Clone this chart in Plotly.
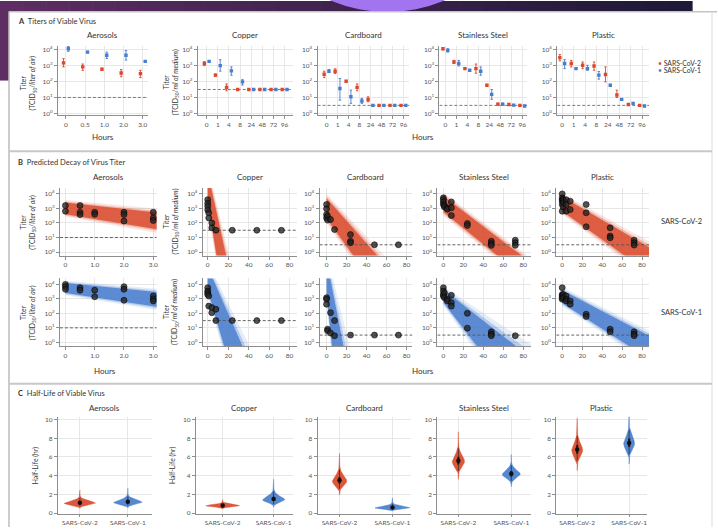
import numpy as np
import plotly.graph_objects as go

W, H = 718, 529
FONT = 'Lato'
TXT = '#333333'
RED = (217, 74, 44)
BLUE = (72, 125, 205)

SURFACES = ['Aerosols', 'Copper', 'Cardboard', 'Stainless Steel', 'Plastic']
VIRUSES = ['SARS-CoV-2', 'SARS-CoV-1']

# ---------------- Panel A: titers of viable virus (log10) ----------------
A_HOURS_AEROSOL = ['0', '0.5', '1.0', '2.0', '3.0']
A_HOURS_SURFACE = ['0', '1', '4', '8', '24', '48', '72', '96']
LOD_LOG10 = [1.0, 1.5, 0.5, 0.5, 0.5]

A_AEROSOLS_COV2_MEAN = [3.17, 2.92, 2.77, 2.54, 2.50]
A_AEROSOLS_COV2_LO = [2.92, 2.70, 2.70, 2.30, 2.25]
A_AEROSOLS_COV2_HI = [3.44, 3.10, 2.83, 2.75, 2.70]
A_AEROSOLS_COV1_MEAN = [4.06, 3.85, 3.65, 3.65, 3.27]
A_AEROSOLS_COV1_LO = [3.90, 3.80, 3.45, 3.35, 3.22]
A_AEROSOLS_COV1_HI = [4.20, 3.90, 3.85, 3.95, 3.32]

A_COPPER_COV2_MEAN = [3.13, 2.40, 1.63, 1.50, 1.50, 1.50, 1.50, 1.50]
A_COPPER_COV2_LO = [3.00, 2.33, 1.42, 1.50, 1.50, 1.50, 1.50, 1.50]
A_COPPER_COV2_HI = [3.25, 2.47, 1.85, 1.50, 1.50, 1.50, 1.50, 1.50]
A_COPPER_COV1_MEAN = [3.27, 3.00, 2.67, 1.98, 1.50, 1.50, 1.50, 1.50]
A_COPPER_COV1_LO = [3.22, 2.65, 2.40, 1.78, 1.50, 1.50, 1.50, 1.50]
A_COPPER_COV1_HI = [3.32, 3.37, 2.92, 2.12, 1.50, 1.50, 1.50, 1.50]

A_CARDBOARD_COV2_MEAN = [2.46, 2.65, 2.02, 1.63, 0.87, 0.50, 0.50, 0.50]
A_CARDBOARD_COV2_LO = [2.25, 2.50, 1.97, 1.42, 0.73, 0.50, 0.50, 0.50]
A_CARDBOARD_COV2_HI = [2.65, 2.80, 2.07, 1.85, 1.04, 0.50, 0.50, 0.50]
A_CARDBOARD_COV1_MEAN = [2.65, 1.56, 1.04, 0.78, 0.50, 0.50, 0.50, 0.50]
A_CARDBOARD_COV1_LO = [2.60, 0.83, 0.63, 0.63, 0.50, 0.50, 0.50, 0.50]
A_CARDBOARD_COV1_HI = [2.75, 2.19, 1.46, 0.94, 0.50, 0.50, 0.50, 0.50]

A_STEEL_COV2_MEAN = [4.06, 3.23, 2.81, 2.81, 1.77, 0.58, 0.56, 0.50]
A_STEEL_COV2_LO = [4.00, 3.13, 2.77, 2.52, 1.72, 0.52, 0.50, 0.50]
A_STEEL_COV2_HI = [4.12, 3.33, 2.85, 3.10, 1.82, 0.64, 0.62, 0.50]
A_STEEL_COV1_MEAN = [3.96, 3.13, 2.71, 2.65, 1.19, 0.58, 0.52, 0.46]
A_STEEL_COV1_LO = [3.85, 2.98, 2.67, 2.40, 0.88, 0.52, 0.50, 0.46]
A_STEEL_COV1_HI = [4.06, 3.33, 2.75, 2.92, 1.50, 0.64, 0.56, 0.46]

A_PLASTIC_COV2_MEAN = [3.50, 3.13, 3.02, 2.98, 2.44, 1.15, 0.56, 0.50]
A_PLASTIC_COV2_LO = [3.30, 2.92, 2.81, 2.71, 1.98, 1.00, 0.52, 0.50]
A_PLASTIC_COV2_HI = [3.69, 3.33, 3.23, 3.23, 2.92, 1.46, 0.60, 0.50]
A_PLASTIC_COV1_MEAN = [3.13, 2.81, 2.81, 2.40, 1.77, 0.88, 0.63, 0.46]
A_PLASTIC_COV1_LO = [2.81, 2.77, 2.71, 2.15, 1.72, 0.82, 0.60, 0.46]
A_PLASTIC_COV1_HI = [3.38, 2.85, 3.02, 2.63, 1.82, 0.93, 0.67, 0.46]

# ---------------- Panel B: observed titers (hours, log10) ----------------
B_AEROSOLS_COV2_T = [0, 0, 0.5, 0.5, 0.5, 1, 1, 2, 2, 2, 3, 3, 3]
B_AEROSOLS_COV2_Y = [3.2, 2.81, 3.2, 2.74, 2.58, 2.74, 2.6, 2.74, 2.58, 2.13, 2.74, 2.35, 2.17]
B_AEROSOLS_COV1_T = [0, 0, 0, 0.5, 0.5, 1, 1, 2, 2, 2, 3, 3, 3]
B_AEROSOLS_COV1_Y = [4.0, 3.84, 3.66, 3.77, 3.6, 3.6, 3.15, 3.84, 3.66, 2.9, 3.2, 3.0, 2.86]
B_COPPER_COV2_T = [0, 0, 0, 0, 1, 1, 4, 4, 8, 24, 48, 72]
B_COPPER_COV2_Y = [3.6, 3.35, 3.15, 2.9, 2.7, 2.35, 2.0, 1.67, 1.5, 1.5, 1.5, 1.5]
B_COPPER_COV1_T = [0, 0, 0, 0, 1, 1, 4, 4, 8, 8, 24, 48, 72]
B_COPPER_COV1_Y = [3.77, 3.54, 3.43, 3.3, 3.2, 2.5, 2.4, 2.05, 2.28, 1.5, 1.5, 1.5, 1.5]
B_CARDBOARD_COV2_T = [0, 0, 0, 0, 1, 1, 4, 8, 24, 24, 24, 48, 72]
B_CARDBOARD_COV2_Y = [3.27, 2.97, 2.58, 2.35, 2.47, 2.2, 2.24, 1.55, 1.2, 0.75, 0.64, 0.5, 0.5]
B_CARDBOARD_COV1_T = [0, 0, 0, 1, 1, 4, 4, 8, 8, 24, 48, 72]
B_CARDBOARD_COV1_Y = [3.08, 2.97, 2.63, 0.91, 0.8, 2.05, 0.64, 1.5, 0.46, 0.5, 0.5, 0.5]
B_STEEL_COV2_T = [0, 0, 0, 0, 1, 1, 4, 4, 8, 8, 8, 24, 24, 48, 48, 48, 72, 72, 72]
B_STEEL_COV2_Y = [3.73, 3.6, 3.43, 3.27, 3.2, 3.1, 3.04, 2.95, 3.45, 3.04, 2.51, 1.97, 1.83,
                  0.75, 0.6, 0.46, 0.82, 0.64, 0.46]
B_STEEL_COV1_T = [0, 0, 0, 0, 1, 1, 4, 4, 8, 8, 8, 24, 24, 48, 48, 48, 72]
B_STEEL_COV1_Y = [3.77, 3.54, 3.3, 3.2, 3.43, 3.08, 2.97, 2.86, 3.25, 2.74, 2.5, 2.0, 0.98,
                  0.73, 0.57, 0.46, 0.46]
B_PLASTIC_COV2_T = [0, 0, 0, 0, 0, 0, 1, 1, 1, 4, 4, 4, 8, 8, 24, 24, 24, 48, 48, 48, 72, 72, 72]
B_PLASTIC_COV2_Y = [4.0, 3.73, 3.6, 3.5, 3.27, 2.81, 3.6, 3.38, 3.1, 3.6, 3.27, 2.81, 3.5, 2.92,
                    3.27, 2.7, 1.74, 1.67, 1.1, 0.98, 0.82, 0.64, 0.48]
B_PLASTIC_COV1_T = [0, 0, 0, 0, 0, 1, 1, 4, 4, 4, 8, 8, 24, 24, 48, 48, 72, 72, 72]
B_PLASTIC_COV1_Y = [3.77, 3.3, 3.2, 3.08, 2.97, 3.3, 3.08, 3.2, 2.97, 2.86, 2.86, 2.63, 1.94,
                    1.78, 0.91, 0.73, 0.73, 0.57, 0.46]

# regression band: log10 titer at t=0, half-width (log10), slope spread
BAND_INTERCEPT_COV2 = [3.0, 4.5, 3.0, 3.3, 3.3]
BAND_INTERCEPT_COV1 = [3.75, 4.4, 4.5, 3.2, 3.15]
BAND_HALFWIDTH_COV2 = [0.4, 1.0, 0.7, 0.55, 0.5]
BAND_HALFWIDTH_COV1 = [0.35, 0.8, 1.2, 0.45, 0.45]
BAND_SPREAD_COV2 = [0.2, 0.15, 0.1, 0.03, 0.1]
BAND_SPREAD_COV1 = [0.2, 0.2, 0.3, 0.25, 0.1]

# ---------------- Panel C: half-life (hours) ----------------
HALF_LIFE_COV2 = [1.1, 0.8, 3.5, 5.6, 6.8]
HALF_LIFE_COV1 = [1.2, 1.5, 0.6, 4.2, 7.5]
HALF_LIFE_LOGSD_COV2 = [0.2, 0.15, 0.15, 0.11, 0.1]
HALF_LIFE_LOGSD_COV1 = [0.2, 0.22, 0.25, 0.1, 0.09]

A_DATA = {
    'Aerosols': [(A_AEROSOLS_COV2_MEAN, A_AEROSOLS_COV2_LO, A_AEROSOLS_COV2_HI),
                 (A_AEROSOLS_COV1_MEAN, A_AEROSOLS_COV1_LO, A_AEROSOLS_COV1_HI)],
    'Copper': [(A_COPPER_COV2_MEAN, A_COPPER_COV2_LO, A_COPPER_COV2_HI),
               (A_COPPER_COV1_MEAN, A_COPPER_COV1_LO, A_COPPER_COV1_HI)],
    'Cardboard': [(A_CARDBOARD_COV2_MEAN, A_CARDBOARD_COV2_LO, A_CARDBOARD_COV2_HI),
                  (A_CARDBOARD_COV1_MEAN, A_CARDBOARD_COV1_LO, A_CARDBOARD_COV1_HI)],
    'Stainless Steel': [(A_STEEL_COV2_MEAN, A_STEEL_COV2_LO, A_STEEL_COV2_HI),
                        (A_STEEL_COV1_MEAN, A_STEEL_COV1_LO, A_STEEL_COV1_HI)],
    'Plastic': [(A_PLASTIC_COV2_MEAN, A_PLASTIC_COV2_LO, A_PLASTIC_COV2_HI),
                (A_PLASTIC_COV1_MEAN, A_PLASTIC_COV1_LO, A_PLASTIC_COV1_HI)],
}
B_DATA = {
    'Aerosols': [(B_AEROSOLS_COV2_T, B_AEROSOLS_COV2_Y), (B_AEROSOLS_COV1_T, B_AEROSOLS_COV1_Y)],
    'Copper': [(B_COPPER_COV2_T, B_COPPER_COV2_Y), (B_COPPER_COV1_T, B_COPPER_COV1_Y)],
    'Cardboard': [(B_CARDBOARD_COV2_T, B_CARDBOARD_COV2_Y), (B_CARDBOARD_COV1_T, B_CARDBOARD_COV1_Y)],
    'Stainless Steel': [(B_STEEL_COV2_T, B_STEEL_COV2_Y), (B_STEEL_COV1_T, B_STEEL_COV1_Y)],
    'Plastic': [(B_PLASTIC_COV2_T, B_PLASTIC_COV2_Y), (B_PLASTIC_COV1_T, B_PLASTIC_COV1_Y)],
}
BAND = [(BAND_INTERCEPT_COV2, BAND_HALFWIDTH_COV2, BAND_SPREAD_COV2),
        (BAND_INTERCEPT_COV1, BAND_HALFWIDTH_COV1, BAND_SPREAD_COV1)]
HALF = [(HALF_LIFE_COV2, HALF_LIFE_LOGSD_COV2), (HALF_LIFE_COV1, HALF_LIFE_LOGSD_COV1)]
COLORS = [RED, BLUE]

# ---------------- layout geometry (pixels) ----------------
A_GEOM = [(58, 148, 66, 143), (198, 293, 207, 285), (318, 410, 327, 404),
          (440, 528, 446, 523), (558, 650, 563, 643)]
A_YPX = (45, 115, 49, 113)
B_GEOM = [(60, 157, 65.5, 153.5, 3), (203, 297, 208, 290, 80), (320, 413, 327, 407, 80),
          (438, 532, 444, 524, 80), (557, 650, 563, 643, 80)]
B_YPX = [(188, 256, 194, 252.5), (279, 347, 285, 343.3)]
C_GEOM = [(58, 152, 80, 128), (196, 293, 223, 274), (318, 412, 340, 393),
          (438, 532, 459, 512), (557, 648, 578, 630)]
C_YPX = (418, 516, 421, 515)

LOG_TV = [1, 10, 100, 1000, 10000]
LOG_TT = ['10<sup>%d</sup>' % k for k in range(5)]


def rgba(c, a):
    return 'rgba(%d,%d,%d,%.3f)' % (c[0], c[1], c[2], a)


def lin_range(p0, p1, pa, pb, va, vb):
    s = (vb - va) / (pb - pa)
    return [va + (p0 - pa) * s, va + (p1 - pa) * s]


AX = dict(showline=True, linecolor='#8e8e8e', linewidth=1, ticks='outside', ticklen=3,
          tickwidth=0.8, tickcolor='#8e8e8e', showgrid=True, gridcolor='#e7e7e7',
          gridwidth=0.8, zeroline=False, fixedrange=True,
          tickfont=dict(family=FONT, size=6.5, color='#555555'))

fig = go.Figure()
layout = dict(width=W, height=H, margin=dict(l=0, r=0, t=0, b=0), paper_bgcolor='white',
              plot_bgcolor='rgba(0,0,0,0)', showlegend=False,
              font=dict(family=FONT, color=TXT))
counter = [0]


def new_axes(xpx, ypx, xr, yr, ytype, xtv, xtt, ytv, ytt, xticklen=3):
    counter[0] += 1
    i = counter[0]
    xk, yk = ('xaxis', 'yaxis') if i == 1 else ('xaxis%d' % i, 'yaxis%d' % i)
    xref, yref = ('x', 'y') if i == 1 else ('x%d' % i, 'y%d' % i)
    layout[xk] = dict(AX, domain=[xpx[0] / W, xpx[1] / W], range=xr, anchor=yref,
                      tickvals=xtv, ticktext=xtt, ticklen=xticklen)
    yd = dict(AX, domain=[1 - ypx[1] / H, 1 - ypx[0] / H], range=yr, type=ytype,
              anchor=xref, tickvals=ytv)
    if ytt is not None:
        yd['ticktext'] = ytt
    layout[yk] = yd
    return xref, yref


annotations = []


def ann(text, x, y, size=7.0, xanchor='center', angle=0, color=TXT):
    annotations.append(dict(text=text, x=x / W, y=1 - y / H, xref='paper', yref='paper',
                            showarrow=False, xanchor=xanchor, yanchor='middle',
                            textangle=angle, font=dict(family=FONT, size=size, color=color)))


# ---------------- Panel A ----------------
for s, surf in enumerate(SURFACES):
    l, r, p0, p1 = A_GEOM[s]
    cats = A_HOURS_AEROSOL if s == 0 else A_HOURS_SURFACE
    n = len(cats)
    xr = lin_range(l, r, p0, p1, 0, n - 1)
    yr = lin_range(A_YPX[1], A_YPX[0], A_YPX[3], A_YPX[2], 0, 4)
    xa, ya = new_axes((l, r), (A_YPX[0], A_YPX[1]), xr, yr, 'log',
                      list(range(n)), cats, LOG_TV, LOG_TT)
    fig.add_trace(go.Scatter(x=xr, y=[10 ** LOD_LOG10[s]] * 2, mode='lines',
                             line=dict(color='#6e6e6e', width=0.9, dash='3px,2px'),
                             xaxis=xa, yaxis=ya, hoverinfo='skip'))
    off = 2.4 * (n - 1) / (p1 - p0)
    for v in range(2):
        mean, lo, hi = (np.array(a) for a in A_DATA[surf][v])
        x = np.arange(n) + (-off if v == 0 else off)
        col = rgba(COLORS[v], 1)
        fig.add_trace(go.Scatter(
            x=x, y=10 ** mean, mode='markers', xaxis=xa, yaxis=ya,
            marker=dict(color=col, size=3.4, symbol='square'),
            error_y=dict(type='data', symmetric=False, array=10 ** hi - 10 ** mean,
                         arrayminus=10 ** mean - 10 ** lo, color=col, thickness=0.9, width=1.2)))
    ann(surf, (l + r) / 2, 34, 8)

# ---------------- Panel B ----------------
for s, surf in enumerate(SURFACES):
    l, r, p0, p1, tmax = B_GEOM[s]
    xr = lin_range(l, r, p0, p1, 0, tmax)
    if s == 0:
        xtv, xtt = [0, 1, 2, 3], ['0', '1.0', '2.0', '3.0']
    else:
        xtv, xtt = [0, 20, 40, 60, 80], ['0', '20', '40', '60', '80']
    for v in range(2):
        top, bot, p4, p0y = B_YPX[v]
        yr = lin_range(bot, top, p0y, p4, 0, 4)
        xa, ya = new_axes((l, r), (top, bot), xr, yr, 'log', xtv, xtt, LOG_TV, LOG_TT)
        inter, hw, spread = (BAND[v][k][s] for k in range(3))
        slope = np.log10(2) / HALF[v][0][s]
        t1 = xr[1]
        for m, op in [(1.45, 0.14), (1.2, 0.3), (1.0, 0.82)]:
            up0 = inter + hw * m
            up1 = inter + hw * m - slope * (1 - spread * m) * t1
            lo0 = inter - hw * m
            lo1 = inter - hw * m - slope * (1 + spread * m) * t1
            fig.add_trace(go.Scatter(
                x=[0, t1, t1, 0], y=10 ** np.array([up0, up1, lo1, lo0]), mode='lines',
                fill='toself', fillcolor=rgba(COLORS[v], op), line=dict(width=0),
                xaxis=xa, yaxis=ya, hoverinfo='skip'))
        fig.add_trace(go.Scatter(x=xr, y=[10 ** LOD_LOG10[s]] * 2, mode='lines',
                                 line=dict(color='#555555', width=0.9, dash='3px,2px'),
                                 xaxis=xa, yaxis=ya, hoverinfo='skip'))
        t, y = B_DATA[surf][v]
        fig.add_trace(go.Scatter(
            x=t, y=10 ** np.array(y), mode='markers', xaxis=xa, yaxis=ya,
            marker=dict(color='rgba(35,35,35,0.78)', size=6,
                        line=dict(color='rgba(0,0,0,0.9)', width=0.6))))
    ann(surf, (l + r) / 2, 177, 8)

# ---------------- Panel C ----------------
for s, surf in enumerate(SURFACES):
    l, r, c0, c1 = C_GEOM[s]
    xr = lin_range(l, r, c0, c1, 0, 1)
    yr = lin_range(C_YPX[1], C_YPX[0], C_YPX[3], C_YPX[2], 0, 10)
    xa, ya = new_axes((l, r), (C_YPX[0], C_YPX[1]), xr, yr, 'linear',
                      [0, 1], VIRUSES, [0, 2, 4, 6, 8, 10], None, xticklen=2)
    for v in range(2):
        med = HALF[v][0][s]
        sd = HALF[v][1][s]
        z = np.linspace(-4, 4, 161)
        yy = med * np.exp(z * sd)
        dens = np.exp(-z ** 2 / 2) * (med / yy)
        peak = 1 / (med * sd * np.sqrt(2 * np.pi))
        halfw = min(0.18 * peak, 0.33) * dens / dens.max()
        fig.add_trace(go.Scatter(
            x=np.concatenate([v + halfw, (v - halfw)[::-1]]),
            y=np.concatenate([yy, yy[::-1]]), mode='lines', fill='toself',
            fillcolor=rgba(COLORS[v], 0.92), line=dict(width=0.4, color=rgba(COLORS[v], 1)),
            xaxis=xa, yaxis=ya, hoverinfo='skip'))
        q95 = med * np.exp(np.array([-1.96, 1.96]) * sd)
        q50 = med * np.exp(np.array([-0.674, 0.674]) * sd)
        fig.add_trace(go.Scatter(x=[v, v], y=q95, mode='lines',
                                 line=dict(color='rgba(20,20,20,0.75)', width=0.8),
                                 xaxis=xa, yaxis=ya, hoverinfo='skip'))
        fig.add_trace(go.Scatter(x=[v, v], y=q50, mode='lines',
                                 line=dict(color='rgba(20,20,20,0.85)', width=2.2),
                                 xaxis=xa, yaxis=ya, hoverinfo='skip'))
        fig.add_trace(go.Scatter(x=[v], y=[med], mode='markers',
                                 marker=dict(color='#111111', size=4.5),
                                 xaxis=xa, yaxis=ya, hoverinfo='skip'))
    ann(surf, (l + r) / 2, 409, 8)

# ---------------- text ----------------
ann('<b>A</b>  Titers of Viable Virus', 16, 21, 7.5, 'left')
ann('<b>B</b>  Predicted Decay of Virus Titer', 16, 162, 7.5, 'left')
ann('<b>C</b>  Half-Life of Viable Virus', 16, 395, 7.5, 'left')
ann('Hours', 103, 137, 8)
ann('Hours', 424, 137, 8)
ann('Hours', 105, 372, 8)
ann('Hours', 424, 372, 8)
for yc in (82, 222, 313):
    ann('Titer<br>(TCID<sub>50</sub>/<i>liter of air</i>)', 28, yc, 6.8, angle=-90)
    ann('Titer<br>(TCID<sub>50</sub>/<i>ml of medium</i>)', 171, yc, 6.8, angle=-90)
ann('Half-Life (hr)', 35, 467, 6.8, angle=-90)
ann('Half-Life (hr)', 173, 467, 6.8, angle=-90)
ann('SARS-CoV-2', 682, 222, 7.5)
ann('SARS-CoV-1', 682, 313, 7.5)
ann("<span style='color:rgb(217,74,44)'>•</span> SARS-CoV-2", 657, 62, 6.8, 'left')
ann("<span style='color:rgb(72,125,205)'>•</span> SARS-CoV-1", 657, 69, 6.8, 'left')

# ---------------- background (slide frame) ----------------
shapes = []


def rect(x0, y0, x1, y1, fill):
    shapes.append(dict(type='rect', xref='paper', yref='paper', x0=x0 / W, x1=x1 / W,
                       y0=1 - y1 / H, y1=1 - y0 / H, fillcolor=fill, line=dict(width=0),
                       layer='below'))


def hline(x0, x1, y, color, width):
    shapes.append(dict(type='line', xref='paper', yref='paper', x0=x0 / W, x1=x1 / W,
                       y0=1 - y / H, y1=1 - y / H, line=dict(color=color, width=width),
                       layer='below'))


def vline(x, y0, y1, color, width):
    shapes.append(dict(type='line', xref='paper', yref='paper', x0=x / W, x1=x / W,
                       y0=1 - y0 / H, y1=1 - y1 / H, line=dict(color=color, width=width),
                       layer='below'))


cl, cr = np.array([94, 45, 98]), np.array([30, 25, 56])
nseg = 30
for k in range(nseg):
    c = cl + (cr - cl) * k / (nseg - 1)
    rect(693 * k / nseg, 0, 693 * (k + 1) / nseg + 0.6, 11, 'rgb(%d,%d,%d)' % tuple(c))
rect(0, 0, 9, 80, 'rgb(94,45,98)')
shapes.append(dict(type='circle', xref='paper', yref='paper', x0=242 / W, x1=534 / W,
                   y0=1 - 11 / H, y1=1 + 280 / H, fillcolor='#a374f0', line=dict(width=0),
                   layer='below'))
rect(9, 10.5, 718, 529, 'white')
vline(9, 10.5, 529, '#bdbdbd', 1.5)
hline(9, 718, 10.8, '#c4c4c4', 1.5)
vline(713, 10.5, 529, '#dcdcdc', 1)
hline(9, 713, 151, '#c8c8c8', 2)
hline(9, 713, 385, '#c8c8c8', 2)

layout['shapes'] = shapes
layout['annotations'] = annotations
fig.update_layout(**layout)
fig.write_html('out.html', config={'displayModeBar': False},
               post_script="document.body.style.margin='0';document.body.style.overflow='hidden';")
